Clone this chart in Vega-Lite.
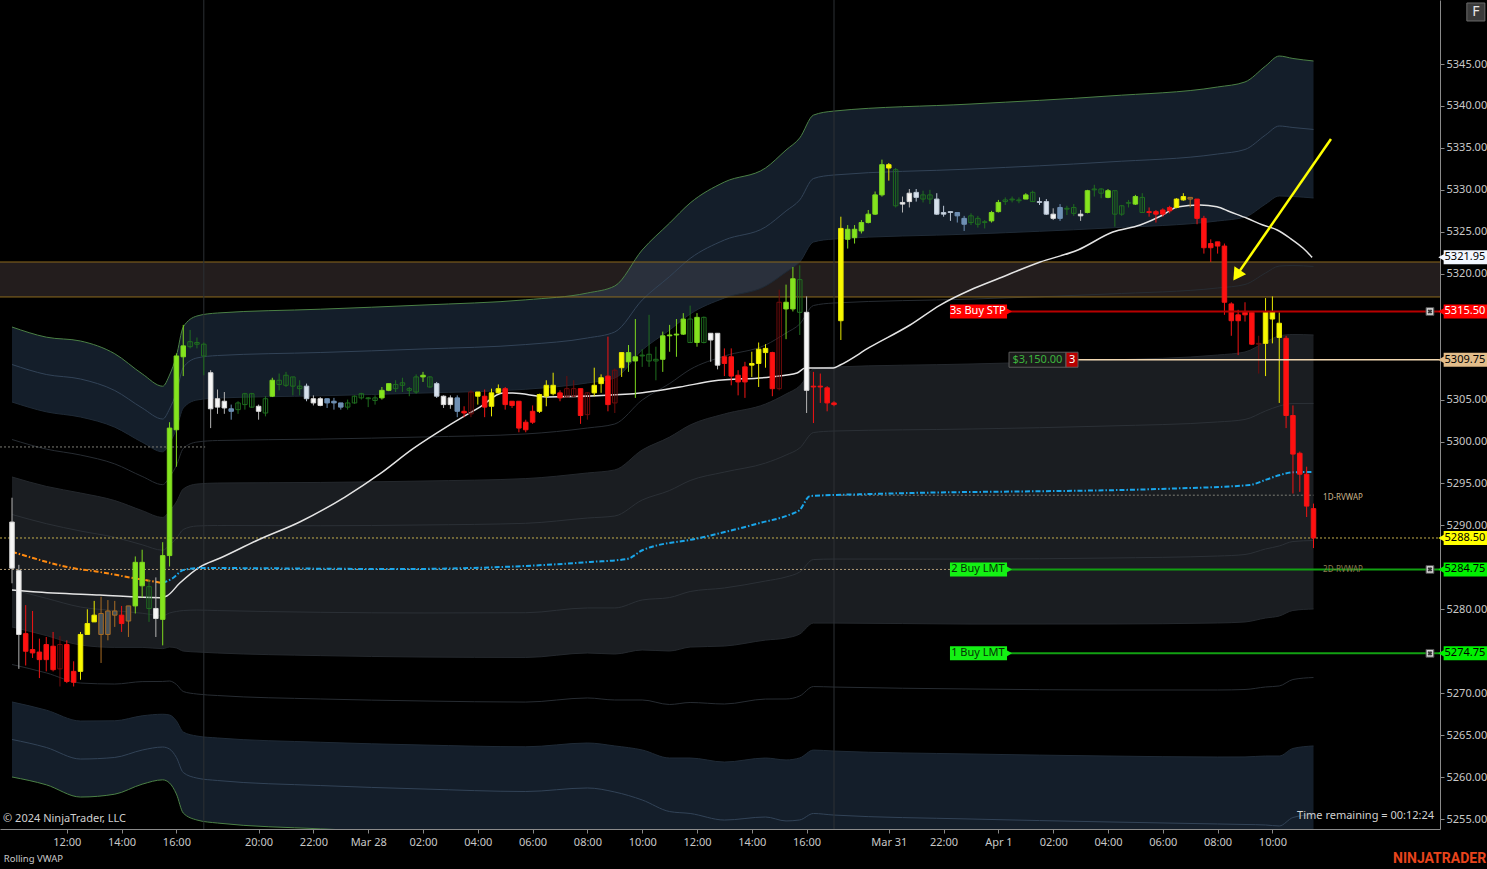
{
"$schema":"https://vega.github.io/schema/vega-lite/v6.json",
"width":1440,"height":829,
"autosize":{"type":"none"},
"padding":{"left":0,"top":0,"right":47,"bottom":40},
"background":"#000000",
"config":{"view":{"stroke":null},"font":"Noto Sans","scale":{"continuousPadding":0}},
"datasets":{
"bands":[
{"t":0,"u6":5313.65,"u5":5309.18,"u4":5304.71,"u3":5300.24,"u2":5295.77,"u1":5291.30,"c":5286.83,"l1":5282.36,"l2":5277.89,"l3":5273.42,"l4":5268.95,"l5":5264.48,"l6":5260.01},
{"t":5,"u6":5312.44,"u5":5307.99,"u4":5303.54,"u3":5299.10,"u2":5294.65,"u1":5290.21,"c":5285.76,"l1":5281.31,"l2":5276.87,"l3":5272.42,"l4":5267.98,"l5":5263.53,"l6":5259.08},
{"t":10,"u6":5311.98,"u5":5307.45,"u4":5302.92,"u3":5298.39,"u2":5293.86,"u1":5289.33,"c":5284.80,"l1":5280.27,"l2":5275.74,"l3":5271.21,"l4":5266.68,"l5":5262.15,"l6":5257.62},
{"t":15,"u6":5310.46,"u5":5306.08,"u4":5301.71,"u3":5297.33,"u2":5292.96,"u1":5288.58,"c":5284.21,"l1":5279.84,"l2":5275.46,"l3":5271.09,"l4":5266.71,"l5":5262.34,"l6":5257.96},
{"t":19,"u6":5308.07,"u5":5304.00,"u4":5299.92,"u3":5295.84,"u2":5291.76,"u1":5287.69,"c":5283.61,"l1":5279.53,"l2":5275.46,"l3":5271.38,"l4":5267.30,"l5":5263.22,"l6":5259.15},
{"t":22,"u6":5306.59,"u5":5302.68,"u4":5298.77,"u3":5294.86,"u2":5290.95,"u1":5287.04,"c":5283.13,"l1":5279.22,"l2":5275.31,"l3":5271.40,"l4":5267.49,"l5":5263.58,"l6":5259.67},
{"t":23,"u6":5307.93,"u5":5303.88,"u4":5299.82,"u3":5295.77,"u2":5291.72,"u1":5287.66,"c":5283.61,"l1":5279.56,"l2":5275.50,"l3":5271.45,"l4":5267.40,"l5":5263.34,"l6":5259.29},
{"t":24,"u6":5310.20,"u5":5305.85,"u4":5301.49,"u3":5297.14,"u2":5292.79,"u1":5288.44,"c":5284.09,"l1":5279.74,"l2":5275.39,"l3":5271.04,"l4":5266.69,"l5":5262.34,"l6":5257.98},
{"t":25,"u6":5313.65,"u5":5308.82,"u4":5303.99,"u3":5299.16,"u2":5294.34,"u1":5289.51,"c":5284.68,"l1":5279.85,"l2":5275.02,"l3":5270.20,"l4":5265.37,"l5":5260.54,"l6":5255.71},
{"t":27,"u6":5314.96,"u5":5309.96,"u4":5304.95,"u3":5299.94,"u2":5294.93,"u1":5289.93,"c":5284.92,"l1":5279.91,"l2":5274.91,"l3":5269.90,"l4":5264.89,"l5":5259.88,"l6":5254.88},
{"t":30,"u6":5315.32,"u5":5310.25,"u4":5305.18,"u3":5300.12,"u2":5295.05,"u1":5289.99,"c":5284.92,"l1":5279.85,"l2":5274.79,"l3":5269.72,"l4":5264.66,"l5":5259.59,"l6":5254.52},
{"t":45,"u6":5315.77,"u5":5310.61,"u4":5305.45,"u3":5300.29,"u2":5295.12,"u1":5289.96,"c":5284.80,"l1":5279.64,"l2":5274.48,"l3":5269.31,"l4":5264.15,"l5":5258.99,"l6":5253.83},
{"t":60,"u6":5316.27,"u5":5311.03,"u4":5305.78,"u3":5300.54,"u2":5295.29,"u1":5290.05,"c":5284.80,"l1":5279.56,"l2":5274.31,"l3":5269.07,"l4":5263.82,"l5":5258.58,"l6":5253.33},
{"t":75,"u6":5316.89,"u5":5311.56,"u4":5306.23,"u3":5300.90,"u2":5295.58,"u1":5290.25,"c":5284.92,"l1":5279.59,"l2":5274.26,"l3":5268.94,"l4":5263.61,"l5":5258.28,"l6":5252.95},
{"t":84,"u6":5317.70,"u5":5312.34,"u4":5306.98,"u3":5301.61,"u2":5296.25,"u1":5290.88,"c":5285.52,"l1":5280.16,"l2":5274.79,"l3":5269.43,"l4":5264.06,"l5":5258.70,"l6":5253.34},
{"t":88,"u6":5318.54,"u5":5313.06,"u4":5307.57,"u3":5302.09,"u2":5296.61,"u1":5291.12,"c":5285.64,"l1":5280.16,"l2":5274.67,"l3":5269.19,"l4":5263.71,"l5":5258.22,"l6":5252.74},
{"t":92,"u6":5322.83,"u5":5316.87,"u4":5310.91,"u3":5304.95,"u2":5298.99,"u1":5293.03,"c":5287.07,"l1":5281.11,"l2":5275.15,"l3":5269.19,"l4":5263.23,"l5":5257.27,"l6":5251.31},
{"t":96,"u6":5326.04,"u5":5319.67,"u4":5313.29,"u3":5306.91,"u2":5300.53,"u1":5294.16,"c":5287.78,"l1":5281.40,"l2":5275.03,"l3":5268.65,"l4":5262.27,"l5":5255.89,"l6":5249.52},
{"t":99,"u6":5328.43,"u5":5321.82,"u4":5315.20,"u3":5308.59,"u2":5301.97,"u1":5295.35,"c":5288.74,"l1":5282.12,"l2":5275.50,"l3":5268.89,"l4":5262.27,"l5":5255.66,"l6":5249.04},
{"t":104,"u6":5330.93,"u5":5324.02,"u4":5317.11,"u3":5310.19,"u2":5303.28,"u1":5296.36,"c":5289.45,"l1":5282.54,"l2":5275.62,"l3":5268.71,"l4":5261.79,"l5":5254.88,"l6":5247.97},
{"t":110,"u6":5332.60,"u5":5325.57,"u4":5318.53,"u3":5311.50,"u2":5304.47,"u1":5297.43,"c":5290.40,"l1":5283.37,"l2":5276.33,"l3":5269.30,"l4":5262.27,"l5":5255.24,"l6":5248.20},
{"t":113,"u6":5334.75,"u5":5327.48,"u4":5320.20,"u3":5312.93,"u2":5305.66,"u1":5298.39,"c":5291.12,"l1":5283.85,"l2":5276.58,"l3":5269.31,"l4":5262.04,"l5":5254.77,"l6":5247.49},
{"t":115,"u6":5336.19,"u5":5328.80,"u4":5321.40,"u3":5314.01,"u2":5306.62,"u1":5299.23,"c":5291.84,"l1":5284.45,"l2":5277.06,"l3":5269.67,"l4":5262.28,"l5":5254.89,"l6":5247.49},
{"t":117,"u6":5338.91,"u5":5331.35,"u4":5323.78,"u3":5316.21,"u2":5308.64,"u1":5301.07,"c":5293.50,"l1":5285.93,"l2":5278.36,"l3":5270.79,"l4":5263.22,"l5":5255.66,"l6":5248.09},
{"t":120,"u6":5339.39,"u5":5331.77,"u4":5324.14,"u3":5316.51,"u2":5308.88,"u1":5301.25,"c":5293.62,"l1":5285.99,"l2":5278.36,"l3":5270.73,"l4":5263.10,"l5":5255.47,"l6":5247.85},
{"t":140,"u6":5340.23,"u5":5332.48,"u4":5324.73,"u3":5316.98,"u2":5309.24,"u1":5301.49,"c":5293.74,"l1":5285.99,"l2":5278.24,"l3":5270.50,"l4":5262.75,"l5":5255.00,"l6":5247.25},
{"t":160,"u6":5341.18,"u5":5333.32,"u4":5325.45,"u3":5317.58,"u2":5309.71,"u1":5301.85,"c":5293.98,"l1":5286.11,"l2":5278.25,"l3":5270.38,"l4":5262.51,"l5":5254.65,"l6":5246.78},
{"t":176,"u6":5342.26,"u5":5334.27,"u4":5326.29,"u3":5318.30,"u2":5310.31,"u1":5302.33,"c":5294.34,"l1":5286.35,"l2":5278.37,"l3":5270.38,"l4":5262.39,"l5":5254.41,"l6":5246.42},
{"t":180,"u6":5342.86,"u5":5334.81,"u4":5326.76,"u3":5318.72,"u2":5310.67,"u1":5302.63,"c":5294.58,"l1":5286.53,"l2":5278.49,"l3":5270.44,"l4":5262.40,"l5":5254.35,"l6":5246.30},
{"t":183,"u6":5344.76,"u5":5336.54,"u4":5328.31,"u3":5320.09,"u2":5311.86,"u1":5303.64,"c":5295.41,"l1":5287.19,"l2":5278.96,"l3":5270.74,"l4":5262.51,"l5":5254.29,"l6":5246.06},
{"t":185,"u6":5345.95,"u5":5337.61,"u4":5329.27,"u3":5320.92,"u2":5312.58,"u1":5304.23,"c":5295.89,"l1":5287.55,"l2":5279.20,"l3":5270.86,"l4":5262.51,"l5":5254.17,"l6":5245.83},
{"t":187,"u6":5345.66,"u5":5337.43,"u4":5329.21,"u3":5320.98,"u2":5312.76,"u1":5304.53,"c":5296.31,"l1":5288.08,"l2":5279.86,"l3":5271.63,"l4":5263.41,"l5":5255.18,"l6":5246.96},
{"t":190,"u6":5345.36,"u5":5337.20,"u4":5329.03,"u3":5320.87,"u2":5312.70,"u1":5304.54,"c":5296.37,"l1":5288.20,"l2":5280.04,"l3":5271.87,"l4":5263.71,"l5":5255.55,"l6":5247.38}
],
"candles":[
{"t":0,"o":5290.4,"h":5293.3,"l":5283.1,"c":5284.9,"s":"W"},
{"t":1,"o":5284.6,"h":5285.3,"l":5272.9,"c":5277.0,"s":"W"},
{"t":2,"o":5277.1,"h":5280.5,"l":5273.3,"c":5275.0,"s":"R"},
{"t":3,"o":5275.2,"h":5279.8,"l":5274.2,"c":5274.8,"s":"R"},
{"t":4,"o":5274.9,"h":5276.5,"l":5271.8,"c":5274.0,"s":"R"},
{"t":5,"o":5275.8,"h":5276.7,"l":5272.6,"c":5274.0,"s":"R"},
{"t":6,"o":5275.6,"h":5277.3,"l":5272.6,"c":5272.8,"s":"R"},
{"t":7,"o":5275.8,"h":5276.8,"l":5270.8,"c":5272.9,"s":"r"},
{"t":8,"o":5275.8,"h":5276.3,"l":5271.2,"c":5271.4,"s":"R"},
{"t":9,"o":5272.6,"h":5273.8,"l":5270.8,"c":5271.3,"s":"R"},
{"t":10,"o":5277.0,"h":5277.3,"l":5271.6,"c":5272.6,"s":"Y"},
{"t":11,"o":5278.3,"h":5280.0,"l":5277.0,"c":5277.0,"s":"Y"},
{"t":12,"o":5279.3,"h":5281.0,"l":5278.5,"c":5278.5,"s":"Y"},
{"t":13,"o":5279.5,"h":5281.5,"l":5273.6,"c":5277.0,"s":"O"},
{"t":14,"o":5279.8,"h":5281.1,"l":5276.3,"c":5277.0,"s":"O"},
{"t":15,"o":5279.8,"h":5281.0,"l":5277.9,"c":5279.3,"s":"O"},
{"t":16,"o":5279.3,"h":5280.4,"l":5277.3,"c":5278.3,"s":"R"},
{"t":17,"o":5280.4,"h":5280.4,"l":5276.7,"c":5278.6,"s":"O"},
{"t":18,"o":5285.6,"h":5286.3,"l":5279.5,"c":5280.4,"s":"G"},
{"t":19,"o":5285.6,"h":5287.1,"l":5281.4,"c":5282.8,"s":"G"},
{"t":20,"o":5282.7,"h":5283.5,"l":5278.5,"c":5280.1,"s":"g"},
{"t":21,"o":5280.1,"h":5283.8,"l":5276.7,"c":5278.9,"s":"W"},
{"t":22,"o":5286.4,"h":5288.0,"l":5275.7,"c":5278.8,"s":"G"},
{"t":23,"o":5301.6,"h":5302.3,"l":5285.1,"c":5286.4,"s":"G"},
{"t":24,"o":5310.2,"h":5310.5,"l":5297.0,"c":5301.4,"s":"G"},
{"t":25,"o":5311.4,"h":5313.9,"l":5307.8,"c":5310.1,"s":"G"},
{"t":26,"o":5311.9,"h":5313.3,"l":5311.1,"c":5311.3,"s":"g"},
{"t":27,"o":5311.8,"h":5312.4,"l":5311.1,"c":5311.6,"s":"g"},
{"t":28,"o":5311.6,"h":5311.8,"l":5307.9,"c":5310.2,"s":"g"},
{"t":29,"o":5308.2,"h":5308.5,"l":5301.6,"c":5303.9,"s":"W"},
{"t":30,"o":5305.1,"h":5306.2,"l":5303.3,"c":5304.1,"s":"W"},
{"t":31,"o":5304.8,"h":5305.9,"l":5303.3,"c":5304.0,"s":"W"},
{"t":32,"o":5303.9,"h":5304.4,"l":5302.6,"c":5303.6,"s":"B"},
{"t":33,"o":5304.6,"h":5304.8,"l":5303.3,"c":5303.8,"s":"g"},
{"t":34,"o":5305.7,"h":5305.8,"l":5303.8,"c":5304.4,"s":"g"},
{"t":35,"o":5305.7,"h":5305.8,"l":5304.0,"c":5304.1,"s":"g"},
{"t":36,"o":5304.2,"h":5304.4,"l":5302.6,"c":5303.6,"s":"W"},
{"t":37,"o":5305.1,"h":5305.4,"l":5303.0,"c":5303.4,"s":"g"},
{"t":38,"o":5307.3,"h":5307.6,"l":5305.3,"c":5305.4,"s":"G"},
{"t":39,"o":5307.3,"h":5308.1,"l":5306.1,"c":5306.8,"s":"g"},
{"t":40,"o":5307.9,"h":5308.3,"l":5306.5,"c":5306.7,"s":"g"},
{"t":41,"o":5307.7,"h":5307.7,"l":5305.5,"c":5306.6,"s":"g"},
{"t":42,"o":5306.6,"h":5307.3,"l":5305.5,"c":5306.3,"s":"g"},
{"t":43,"o":5306.6,"h":5306.9,"l":5304.8,"c":5305.1,"s":"w"},
{"t":44,"o":5305.1,"h":5305.5,"l":5304.3,"c":5304.6,"s":"W"},
{"t":45,"o":5305.1,"h":5305.3,"l":5304.2,"c":5304.3,"s":"W"},
{"t":46,"o":5305.1,"h":5305.1,"l":5304.0,"c":5304.6,"s":"B"},
{"t":47,"o":5304.8,"h":5305.2,"l":5303.8,"c":5304.6,"s":"B"},
{"t":48,"o":5304.6,"h":5304.6,"l":5303.8,"c":5304.1,"s":"B"},
{"t":49,"o":5304.6,"h":5305.0,"l":5303.8,"c":5304.1,"s":"g"},
{"t":50,"o":5305.4,"h":5305.5,"l":5304.5,"c":5304.6,"s":"g"},
{"t":51,"o":5305.7,"h":5305.8,"l":5305.0,"c":5305.2,"s":"g"},
{"t":52,"o":5305.2,"h":5305.3,"l":5304.1,"c":5305.1,"s":"g"},
{"t":53,"o":5305.2,"h":5305.5,"l":5304.4,"c":5304.9,"s":"g"},
{"t":54,"o":5306.1,"h":5306.5,"l":5305.0,"c":5305.2,"s":"G"},
{"t":55,"o":5306.9,"h":5306.9,"l":5306.0,"c":5306.1,"s":"G"},
{"t":56,"o":5306.8,"h":5307.3,"l":5305.9,"c":5306.3,"s":"g"},
{"t":57,"o":5307.0,"h":5307.6,"l":5305.9,"c":5306.7,"s":"g"},
{"t":58,"o":5306.3,"h":5306.5,"l":5305.4,"c":5306.1,"s":"g"},
{"t":59,"o":5307.7,"h":5308.0,"l":5305.7,"c":5305.9,"s":"g"},
{"t":60,"o":5307.9,"h":5308.3,"l":5307.1,"c":5307.7,"s":"G"},
{"t":61,"o":5307.7,"h":5307.8,"l":5306.4,"c":5306.5,"s":"g"},
{"t":62,"o":5306.9,"h":5307.1,"l":5305.2,"c":5305.4,"s":"w"},
{"t":63,"o":5305.4,"h":5305.5,"l":5304.0,"c":5304.4,"s":"W"},
{"t":64,"o":5305.2,"h":5305.5,"l":5303.9,"c":5304.4,"s":"W"},
{"t":65,"o":5305.2,"h":5305.5,"l":5302.9,"c":5303.6,"s":"B"},
{"t":66,"o":5303.6,"h":5304.2,"l":5302.9,"c":5303.4,"s":"R"},
{"t":67,"o":5305.9,"h":5306.1,"l":5302.9,"c":5303.3,"s":"r"},
{"t":68,"o":5305.9,"h":5305.9,"l":5304.4,"c":5305.4,"s":"Y"},
{"t":69,"o":5305.4,"h":5306.2,"l":5302.9,"c":5304.1,"s":"R"},
{"t":70,"o":5305.8,"h":5306.3,"l":5303.0,"c":5304.2,"s":"Y"},
{"t":71,"o":5306.3,"h":5306.8,"l":5305.7,"c":5305.8,"s":"Y"},
{"t":72,"o":5306.3,"h":5306.5,"l":5303.8,"c":5304.4,"s":"R"},
{"t":73,"o":5304.8,"h":5304.8,"l":5304.0,"c":5304.3,"s":"R"},
{"t":74,"o":5304.8,"h":5304.8,"l":5301.1,"c":5301.6,"s":"R"},
{"t":75,"o":5302.3,"h":5302.6,"l":5301.1,"c":5301.4,"s":"R"},
{"t":76,"o":5303.6,"h":5304.3,"l":5302.1,"c":5302.3,"s":"R"},
{"t":77,"o":5305.6,"h":5305.7,"l":5303.4,"c":5303.6,"s":"Y"},
{"t":78,"o":5306.7,"h":5307.3,"l":5304.2,"c":5305.4,"s":"Y"},
{"t":79,"o":5306.7,"h":5308.2,"l":5305.5,"c":5305.7,"s":"Y"},
{"t":80,"o":5305.8,"h":5306.1,"l":5304.8,"c":5305.2,"s":"R"},
{"t":81,"o":5306.3,"h":5307.8,"l":5305.3,"c":5305.3,"s":"r"},
{"t":82,"o":5306.3,"h":5307.3,"l":5305.3,"c":5305.4,"s":"r"},
{"t":83,"o":5306.3,"h":5306.3,"l":5302.1,"c":5303.1,"s":"R"},
{"t":84,"o":5305.8,"h":5305.9,"l":5302.6,"c":5303.2,"s":"r"},
{"t":85,"o":5306.7,"h":5308.8,"l":5305.4,"c":5305.8,"s":"Y"},
{"t":86,"o":5307.6,"h":5308.0,"l":5305.8,"c":5306.9,"s":"Y"},
{"t":87,"o":5307.8,"h":5312.5,"l":5303.6,"c":5304.4,"s":"R"},
{"t":88,"o":5308.5,"h":5308.7,"l":5303.4,"c":5304.6,"s":"r"},
{"t":89,"o":5310.6,"h":5310.6,"l":5307.7,"c":5308.8,"s":"Y"},
{"t":90,"o":5310.6,"h":5311.5,"l":5308.3,"c":5309.5,"s":"G"},
{"t":91,"o":5310.1,"h":5314.6,"l":5305.2,"c":5309.6,"s":"G"},
{"t":92,"o":5310.3,"h":5311.0,"l":5308.9,"c":5310.2,"s":"g"},
{"t":93,"o":5310.4,"h":5315.1,"l":5308.9,"c":5309.6,"s":"g"},
{"t":94,"o":5309.8,"h":5311.3,"l":5307.3,"c":5309.6,"s":"g"},
{"t":95,"o":5312.6,"h":5313.1,"l":5308.3,"c":5309.8,"s":"G"},
{"t":96,"o":5312.7,"h":5313.9,"l":5310.7,"c":5312.6,"s":"G"},
{"t":97,"o":5312.8,"h":5314.6,"l":5310.1,"c":5312.7,"s":"G"},
{"t":98,"o":5314.6,"h":5315.3,"l":5312.7,"c":5312.8,"s":"G"},
{"t":99,"o":5314.6,"h":5316.2,"l":5311.8,"c":5311.8,"s":"g"},
{"t":100,"o":5314.8,"h":5315.3,"l":5311.3,"c":5311.8,"s":"G"},
{"t":101,"o":5314.8,"h":5314.9,"l":5311.7,"c":5311.8,"s":"g"},
{"t":102,"o":5312.9,"h":5312.9,"l":5309.5,"c":5312.1,"s":"W"},
{"t":103,"o":5312.9,"h":5312.9,"l":5308.6,"c":5309.1,"s":"W"},
{"t":104,"o":5310.1,"h":5311.1,"l":5307.8,"c":5309.3,"s":"R"},
{"t":105,"o":5310.1,"h":5311.1,"l":5306.7,"c":5307.8,"s":"R"},
{"t":106,"o":5307.9,"h":5308.5,"l":5305.5,"c":5307.1,"s":"R"},
{"t":107,"o":5308.9,"h":5309.5,"l":5305.2,"c":5307.1,"s":"R"},
{"t":108,"o":5309.3,"h":5310.7,"l":5307.7,"c":5309.1,"s":"Y"},
{"t":109,"o":5311.0,"h":5311.8,"l":5306.5,"c":5309.3,"s":"Y"},
{"t":110,"o":5311.1,"h":5311.6,"l":5308.8,"c":5310.6,"s":"Y"},
{"t":111,"o":5310.6,"h":5310.7,"l":5305.4,"c":5306.3,"s":"R"},
{"t":112,"o":5316.6,"h":5318.1,"l":5306.1,"c":5306.3,"s":"r"},
{"t":113,"o":5316.6,"h":5318.7,"l":5312.2,"c":5315.8,"s":"G"},
{"t":114,"o":5319.4,"h":5320.8,"l":5315.5,"c":5315.8,"s":"G"},
{"t":115,"o":5319.3,"h":5321.0,"l":5312.7,"c":5315.4,"s":"g"},
{"t":116,"o":5315.4,"h":5317.3,"l":5303.4,"c":5306.1,"s":"W"},
{"t":117,"o":5306.6,"h":5308.3,"l":5302.2,"c":5306.5,"s":"R"},
{"t":118,"o":5306.6,"h":5308.1,"l":5304.6,"c":5306.5,"s":"R"},
{"t":119,"o":5306.4,"h":5306.6,"l":5303.6,"c":5304.6,"s":"R"},
{"t":120,"o":5304.6,"h":5304.8,"l":5304.2,"c":5304.4,"s":"R"},
{"t":121,"o":5325.4,"h":5326.8,"l":5312.1,"c":5314.4,"s":"Y"},
{"t":122,"o":5325.3,"h":5325.8,"l":5323.0,"c":5324.1,"s":"G"},
{"t":123,"o":5325.3,"h":5325.8,"l":5323.6,"c":5324.3,"s":"G"},
{"t":124,"o":5326.1,"h":5326.4,"l":5324.8,"c":5325.1,"s":"G"},
{"t":125,"o":5327.1,"h":5327.6,"l":5326.0,"c":5326.1,"s":"G"},
{"t":126,"o":5329.4,"h":5329.8,"l":5327.0,"c":5327.1,"s":"G"},
{"t":127,"o":5333.0,"h":5333.6,"l":5329.2,"c":5329.4,"s":"G"},
{"t":128,"o":5333.0,"h":5333.2,"l":5331.1,"c":5332.6,"s":"Y"},
{"t":129,"o":5332.4,"h":5332.6,"l":5327.9,"c":5328.1,"s":"g"},
{"t":130,"o":5328.5,"h":5329.2,"l":5327.3,"c":5328.3,"s":"W"},
{"t":131,"o":5329.6,"h":5330.1,"l":5327.9,"c":5328.6,"s":"W"},
{"t":132,"o":5329.7,"h":5330.1,"l":5328.6,"c":5329.1,"s":"w"},
{"t":133,"o":5329.4,"h":5329.9,"l":5328.5,"c":5328.9,"s":"g"},
{"t":134,"o":5329.4,"h":5330.0,"l":5328.3,"c":5328.9,"s":"g"},
{"t":135,"o":5328.9,"h":5329.6,"l":5327.0,"c":5327.1,"s":"w"},
{"t":136,"o":5327.3,"h":5328.1,"l":5326.8,"c":5327.1,"s":"w"},
{"t":137,"o":5327.4,"h":5327.4,"l":5326.3,"c":5327.3,"s":"w"},
{"t":138,"o":5327.3,"h":5327.3,"l":5326.1,"c":5326.9,"s":"B"},
{"t":139,"o":5326.6,"h":5326.9,"l":5325.1,"c":5325.9,"s":"B"},
{"t":140,"o":5326.9,"h":5327.2,"l":5325.8,"c":5326.1,"s":"g"},
{"t":141,"o":5326.6,"h":5326.9,"l":5325.5,"c":5325.9,"s":"g"},
{"t":142,"o":5326.2,"h":5326.4,"l":5325.4,"c":5326.1,"s":"g"},
{"t":143,"o":5327.3,"h":5327.5,"l":5326.1,"c":5326.3,"s":"G"},
{"t":144,"o":5328.5,"h":5328.8,"l":5327.3,"c":5327.4,"s":"G"},
{"t":145,"o":5328.8,"h":5329.1,"l":5328.2,"c":5328.6,"s":"g"},
{"t":146,"o":5328.9,"h":5329.2,"l":5328.5,"c":5328.8,"s":"g"},
{"t":147,"o":5328.8,"h":5329.1,"l":5328.4,"c":5328.7,"s":"g"},
{"t":148,"o":5329.4,"h":5329.6,"l":5328.9,"c":5328.9,"s":"G"},
{"t":149,"o":5329.7,"h":5329.9,"l":5328.6,"c":5328.6,"s":"g"},
{"t":150,"o":5328.6,"h":5329.1,"l":5328.2,"c":5328.5,"s":"w"},
{"t":151,"o":5328.6,"h":5328.9,"l":5327.0,"c":5327.1,"s":"w"},
{"t":152,"o":5327.1,"h":5327.8,"l":5326.4,"c":5326.6,"s":"W"},
{"t":153,"o":5327.9,"h":5328.3,"l":5326.3,"c":5326.6,"s":"B"},
{"t":154,"o":5327.8,"h":5328.1,"l":5327.0,"c":5327.7,"s":"g"},
{"t":155,"o":5327.9,"h":5328.3,"l":5326.9,"c":5327.2,"s":"g"},
{"t":156,"o":5327.1,"h":5327.6,"l":5326.3,"c":5326.9,"s":"W"},
{"t":157,"o":5329.9,"h":5330.0,"l":5327.2,"c":5327.3,"s":"G"},
{"t":158,"o":5330.1,"h":5330.6,"l":5329.2,"c":5330.0,"s":"g"},
{"t":159,"o":5330.1,"h":5330.2,"l":5329.0,"c":5329.6,"s":"g"},
{"t":160,"o":5329.9,"h":5330.1,"l":5329.0,"c":5329.1,"s":"G"},
{"t":161,"o":5329.9,"h":5329.9,"l":5325.6,"c":5327.1,"s":"g"},
{"t":162,"o":5328.1,"h":5328.2,"l":5326.9,"c":5327.1,"s":"g"},
{"t":163,"o":5328.5,"h":5328.8,"l":5327.9,"c":5328.4,"s":"g"},
{"t":164,"o":5329.2,"h":5329.4,"l":5328.2,"c":5328.3,"s":"G"},
{"t":165,"o":5329.1,"h":5329.6,"l":5327.3,"c":5327.3,"s":"g"},
{"t":166,"o":5327.4,"h":5327.9,"l":5326.8,"c":5327.3,"s":"R"},
{"t":167,"o":5327.4,"h":5327.6,"l":5326.1,"c":5327.1,"s":"R"},
{"t":168,"o":5327.6,"h":5327.8,"l":5326.8,"c":5327.1,"s":"R"},
{"t":169,"o":5327.9,"h":5328.1,"l":5327.2,"c":5327.5,"s":"R"},
{"t":170,"o":5328.9,"h":5329.0,"l":5327.8,"c":5327.9,"s":"Y"},
{"t":171,"o":5329.2,"h":5329.6,"l":5328.7,"c":5328.8,"s":"Y"},
{"t":172,"o":5329.1,"h":5329.1,"l":5327.9,"c":5328.9,"s":"O"},
{"t":173,"o":5328.9,"h":5328.9,"l":5325.9,"c":5326.6,"s":"R"},
{"t":174,"o":5326.6,"h":5326.9,"l":5322.4,"c":5323.1,"s":"R"},
{"t":175,"o":5323.6,"h":5324.1,"l":5321.4,"c":5323.1,"s":"R"},
{"t":176,"o":5323.8,"h":5323.8,"l":5322.4,"c":5323.3,"s":"R"},
{"t":177,"o":5323.3,"h":5323.6,"l":5315.1,"c":5316.6,"s":"R"},
{"t":178,"o":5316.4,"h":5316.6,"l":5312.6,"c":5314.4,"s":"R"},
{"t":179,"o":5315.1,"h":5315.7,"l":5310.3,"c":5314.4,"s":"R"},
{"t":180,"o":5315.4,"h":5316.6,"l":5314.3,"c":5315.1,"s":"R"},
{"t":181,"o":5315.4,"h":5315.5,"l":5311.5,"c":5311.6,"s":"R"},
{"t":182,"o":5311.7,"h":5312.6,"l":5308.1,"c":5311.6,"s":"r"},
{"t":183,"o":5315.4,"h":5317.1,"l":5307.8,"c":5311.7,"s":"Y"},
{"t":184,"o":5315.5,"h":5317.3,"l":5311.7,"c":5314.6,"s":"Y"},
{"t":185,"o":5314.1,"h":5315.4,"l":5304.6,"c":5312.4,"s":"Y"},
{"t":186,"o":5312.3,"h":5312.6,"l":5301.6,"c":5303.1,"s":"R"},
{"t":187,"o":5303.1,"h":5304.3,"l":5293.8,"c":5298.5,"s":"R"},
{"t":188,"o":5298.6,"h":5298.8,"l":5294.0,"c":5296.1,"s":"R"},
{"t":189,"o":5296.1,"h":5297.0,"l":5291.0,"c":5292.3,"s":"R"},
{"t":190,"o":5292.0,"h":5292.6,"l":5287.3,"c":5288.5,"s":"R"}
],
"white":[
{"t":0,"p":5282.30},{"t":3.07,"p":5282.10},{"t":12.85,"p":5281.70},{"t":21.6,"p":5281.38},{"t":22.6,"p":5281.58},{"t":24.5,"p":5283.13},{"t":27.4,"p":5285.04},{"t":30.4,"p":5286.11},{"t":35.9,"p":5288.26},{"t":42.0,"p":5290.41},{"t":48.6,"p":5293.38},{"t":53.7,"p":5296.13},{"t":58.5,"p":5299.11},{"t":63.9,"p":5301.97},{"t":68.3,"p":5304.11},{"t":71.7,"p":5305.78},{"t":73.1,"p":5305.78},{"t":78.1,"p":5305.31},{"t":90.2,"p":5305.66},{"t":97.5,"p":5306.50},{"t":102.3,"p":5307.21},{"t":110.7,"p":5307.69},{"t":114.6,"p":5308.17},{"t":115.8,"p":5308.76},{"t":119.9,"p":5308.76},{"t":120.9,"p":5309.12},{"t":125.3,"p":5311.27},{"t":131.1,"p":5313.89},{"t":135.5,"p":5316.27},{"t":139.9,"p":5318.06},{"t":144.2,"p":5319.49},{"t":150.1,"p":5321.40},{"t":155.6,"p":5322.83},{"t":160.7,"p":5324.97},{"t":164.7,"p":5325.81},{"t":168.0,"p":5327.00},{"t":170.1,"p":5327.95},{"t":173.4,"p":5328.19},{"t":175.9,"p":5327.99},{"t":177.8,"p":5327.39},{"t":180.3,"p":5326.61},{"t":182.6,"p":5325.81},{"t":184.7,"p":5325.21},{"t":186.6,"p":5324.22},{"t":188.5,"p":5323.03},{"t":189.8,"p":5321.95}
],
"cyan":[
{"t":22.0,"p":5283.13},{"t":23.5,"p":5283.73},{"t":25.0,"p":5284.68},{"t":27.4,"p":5284.92},{"t":56.6,"p":5284.80},{"t":84.4,"p":5285.64},{"t":89.8,"p":5286.00},{"t":92.1,"p":5287.07},{"t":100.4,"p":5288.50},{"t":109.2,"p":5290.29},{"t":113.6,"p":5291.30},{"t":115.0,"p":5291.84},{"t":116.5,"p":5293.50},{"t":125.3,"p":5293.74},{"t":170.5,"p":5294.42},{"t":180.7,"p":5294.82},{"t":183.2,"p":5295.49},{"t":185.1,"p":5296.01},{"t":187.0,"p":5296.33},{"t":189.8,"p":5296.37}
],
"orange":[
{"t":0,"p":5286.86},{"t":3.07,"p":5286.11},{"t":8.03,"p":5285.04},{"t":12.85,"p":5284.44},{"t":17.66,"p":5283.73},{"t":22.04,"p":5283.13}
],
"dots":[
{"p":5299.35,"t0":-1.752,"t1":28.2,"k":"grey"},
{"p":5288.5,"t0":-1.752,"t1":208.467,"k":"last"},
{"p":5284.75,"t0":-1.752,"t1":137.0,"k":"tan"},
{"p":5293.6,"t0":121,"t1":190,"k":"grey"}
],
"rtags":[
{"p":5321.95,"label":"5321.95","k":"white"},
{"p":5315.5,"label":"5315.50","k":"stop"},
{"p":5309.75,"label":"5309.75","k":"tan"},
{"p":5288.5,"label":"5288.50","k":"last"},
{"p":5284.75,"label":"5284.75","k":"limit"},
{"p":5274.75,"label":"5274.75","k":"limit"}
],
"otags":[
{"p":5315.5,"label":"3s Buy STP","k":"stop"},
{"p":5284.75,"label":"2 Buy LMT","k":"limit"},
{"p":5274.75,"label":"1 Buy LMT","k":"limit"}
]
},
"layer":[
{"data":{"values":[{"lo":5317.23,"hi":5321.40}]},
 "mark":{"type":"rect","fill":"#231d1d"},
 "encoding":{"x":{"datum":-1.752,"type":"quantitative","scale":{"domain":[-1.752,208.467],"nice":false,"zero":false,"padding":0}},"x2":{"datum":208.467},
 "y":{"field":"hi","type":"quantitative","scale":{"domain":[5253.81,5352.63],"nice":false,"zero":false,"padding":0},
   "axis":{"orient":"right","title":null,"grid":false,"values":[5255,5260,5265,5270,5280,5290,5295,5300,5305,5320,5325,5330,5335,5340,5345],"format":".2f",
   "labelColor":"#c8c8c8","labelFont":"Noto Sans","labelFontSize":11,"labelPadding":2,"tickColor":"#8a8a8a","tickSize":4,"domainColor":"#8a8a8a","labelFlush":false,"labelOverlap":false}},
 "y2":{"field":"lo"}}},
{"data":{"name":"bands"},
 "mark":{"type":"area","interpolate":"monotone","fill":"#3a5778","fillOpacity":0.35},
 "encoding":{"x":{"field":"t","type":"quantitative","scale":{"domain":[-1.752,208.467],"nice":false,"zero":false,"padding":0},
   "axis":{"orient":"bottom","title":null,"grid":false,"values":[8,16,24,36,44,52,60,68,76,84,92,100,108,116,128,136,144,152,160,168,176,184],
   "labelExpr":"['12:00','14:00','16:00','20:00','22:00','Mar 28','02:00','04:00','06:00','08:00','10:00','12:00','14:00','16:00','Mar 31','22:00','Apr 1','02:00','04:00','06:00','08:00','10:00'][indexof([8,16,24,36,44,52,60,68,76,84,92,100,108,116,128,136,144,152,160,168,176,184], datum.value)]",
   "labelColor":"#c8c8c8","labelFont":"Noto Sans","labelFontSize":11,"labelPadding":3,"tickColor":"#8a8a8a","tickSize":4,"domainColor":"#8a8a8a","labelFlush":false,"labelOverlap":false}},
 "y":{"field":"u6","type":"quantitative","scale":{"domain":[5253.81,5352.63],"nice":false,"zero":false,"padding":0}},
 "y2":{"field":"u4"}}},
{"data":{"name":"bands"},
 "mark":{"type":"area","interpolate":"monotone","fill":"#1a1d21"},
 "encoding":{"x":{"field":"t","type":"quantitative","scale":{"domain":[-1.752,208.467],"nice":false,"zero":false,"padding":0}},
 "y":{"field":"u2","type":"quantitative","scale":{"domain":[5253.81,5352.63],"nice":false,"zero":false,"padding":0}},"y2":{"field":"l2"}}},
{"data":{"name":"bands"},
 "mark":{"type":"area","interpolate":"monotone","fill":"#3a5778","fillOpacity":0.35,"clip":true},
 "encoding":{"x":{"field":"t","type":"quantitative","scale":{"domain":[-1.752,208.467],"nice":false,"zero":false,"padding":0}},
 "y":{"field":"l4","type":"quantitative","scale":{"domain":[5253.81,5352.63],"nice":false,"zero":false,"padding":0}},"y2":{"field":"l6"}}},
{"data":{"name":"bands"},
 "transform":[{"fold":["u6","u5","u4","u3","u2","u1","l1","l2","l3","l4","l5","l6"],"as":["k","v"]}],
 "mark":{"type":"line","interpolate":"monotone","strokeWidth":1,"clip":true},
 "encoding":{"x":{"field":"t","type":"quantitative","scale":{"domain":[-1.752,208.467],"nice":false,"zero":false,"padding":0}},
 "y":{"field":"v","type":"quantitative","scale":{"domain":[5253.81,5352.63],"nice":false,"zero":false,"padding":0}},
 "color":{"field":"k","type":"nominal","legend":null,"scale":{"domain":["u6","u5","u4","u3","u2","u1","l1","l2","l3","l4","l5","l6"],"range":["#4b8045","#324357","#1f2a36","#272c32","#24282d","#2b3036","#2b3036","#24282d","#272c32","#1f2a36","#324357","#4b8045"]}}}},
{"data":{"values":[{"p":5321.40},{"p":5317.23}]},
 "mark":{"type":"rule","color":"#8c6a1e","strokeWidth":1},
 "encoding":{"x":{"datum":-1.752,"type":"quantitative"},"x2":{"datum":208.467},
 "y":{"field":"p","type":"quantitative"}}},
{"data":{"values":[{"t":28},{"t":120}]},
 "mark":{"type":"rule","color":"#2c3034","strokeWidth":1},
 "encoding":{"x":{"field":"t","type":"quantitative"}}},
{"data":{"name":"dots"},
 "mark":{"type":"rule","strokeWidth":1,"strokeDash":[2,2]},
 "encoding":{"x":{"field":"t0","type":"quantitative"},"x2":{"field":"t1"},
 "y":{"field":"p","type":"quantitative"},
 "color":{"field":"k","type":"nominal","legend":null,"scale":{"domain":["grey","last","tan"],"range":["#7c7c74","#c2ad4c","#b09a74"]}}}},
{"data":{"name":"white"},
 "mark":{"type":"line","interpolate":"monotone","color":"#e4e4e4","strokeWidth":1.5},
 "encoding":{"x":{"field":"t","type":"quantitative"},"y":{"field":"p","type":"quantitative"}}},
{"data":{"name":"orange"},
 "mark":{"type":"line","interpolate":"monotone","color":"#ff8a10","strokeWidth":2,"strokeDash":[5,2,1.5,2]},
 "encoding":{"x":{"field":"t","type":"quantitative"},"y":{"field":"p","type":"quantitative"}}},
{"data":{"name":"cyan"},
 "mark":{"type":"line","interpolate":"monotone","color":"#1aa6ea","strokeWidth":2,"strokeDash":[5,2,1.5,2]},
 "encoding":{"x":{"field":"t","type":"quantitative"},"y":{"field":"p","type":"quantitative"}}},
{"data":{"name":"candles"},
 "mark":{"type":"rule","strokeWidth":1},
 "encoding":{"x":{"field":"t","type":"quantitative"},
 "y":{"field":"l","type":"quantitative"},"y2":{"field":"h"},
 "stroke":{"field":"s","type":"nominal","legend":null,"scale":{"domain":["R","Y","G","g","W","w","B","r","O"],"range":["#f01414","#e8e800","#7ed81e","#1f6e1f","#b4b4b4","#b8c4d2","#6f90b4","#6e0c0c","#a86c24"]}}}},
{"data":{"name":"candles"},
 "mark":{"type":"bar","size":4.5,"strokeWidth":1,"orient":"vertical"},
 "encoding":{"x":{"field":"t","type":"quantitative"},
 "y":{"field":"o","type":"quantitative"},"y2":{"field":"c"},
 "fill":{"field":"s","type":"nominal","legend":null,"scale":{"domain":["R","Y","G","g","W","w","B","r","O"],"range":["#ff1010","#f8f800","#84e41e","transparent","#f6f6f6","#d6e0ec","#6f90b4","transparent","#45525c"]}},
 "stroke":{"field":"s","type":"nominal","legend":null,"scale":{"domain":["R","Y","G","g","W","w","B","r","O"],"range":["#f01414","#e8e800","#7ed81e","#1f6e1f","#d8d8d8","#b8c4d2","#6f90b4","#6e0c0c","#a86c24"]}}}},
{"data":{"values":[{"p":5315.5,"k":"stop"},{"p":5284.75,"k":"limit"},{"p":5274.75,"k":"limit"}]},
 "mark":{"type":"rule","strokeWidth":2},
 "encoding":{"x":{"datum":145.26,"type":"quantitative"},"x2":{"datum":208.467},
 "y":{"field":"p","type":"quantitative"},
 "color":{"field":"k","type":"nominal","legend":null,"scale":{"domain":["stop","limit"],"range":["#b80000","#12a012"]}}}},
{"data":{"values":[{"p":5309.75}]},
 "mark":{"type":"rule","strokeWidth":1.5,"color":"#f2d8b2"},
 "encoding":{"x":{"datum":155.62,"type":"quantitative"},"x2":{"datum":208.467},
 "y":{"field":"p","type":"quantitative"}}},
{"data":{"values":[{"p":5315.5},{"p":5284.75},{"p":5274.75}]},
 "mark":{"type":"point","shape":"square","filled":true,"size":60,"color":"#d4d4d4","stroke":"#505050","strokeWidth":1,"opacity":1},
 "encoding":{"x":{"datum":207.0,"type":"quantitative"},"y":{"field":"p","type":"quantitative"}}},
{"data":{"values":[{"p":5315.5},{"p":5284.75},{"p":5274.75}]},
 "mark":{"type":"point","shape":"cross","filled":true,"size":22,"angle":45,"color":"#303030","opacity":1},
 "encoding":{"x":{"datum":207.0,"type":"quantitative"},"y":{"field":"p","type":"quantitative"}}},
{"data":{"name":"otags"},
 "mark":{"type":"bar","size":14,"orient":"horizontal"},
 "encoding":{"x":{"datum":136.93,"type":"quantitative"},"x2":{"datum":145.26},
 "y":{"field":"p","type":"quantitative"},
 "fill":{"field":"k","type":"nominal","legend":null,"scale":{"domain":["stop","limit"],"range":["#ff0000","#14f014"]}}}},
{"data":{"name":"otags"},
 "mark":{"type":"point","shape":"triangle-right","filled":true,"size":60,"opacity":1},
 "encoding":{"x":{"datum":145.5,"type":"quantitative"},"y":{"field":"p","type":"quantitative"},
 "color":{"field":"k","type":"nominal","legend":null,"scale":{"domain":["stop","limit"],"range":["#ff0000","#14f014"]}}}},
{"data":{"name":"otags"},
 "mark":{"type":"text","fontSize":11,"font":"Noto Sans","align":"center","baseline":"middle"},
 "encoding":{"x":{"datum":141.0,"type":"quantitative"},"y":{"field":"p","type":"quantitative"},
 "text":{"field":"label"},
 "color":{"field":"k","type":"nominal","legend":null,"scale":{"domain":["stop","limit"],"range":["#ffffff","#063006"]}}}},
{"data":{"values":[{"p":5309.75}]},
 "mark":{"type":"bar","size":15,"orient":"horizontal","fill":"#1c1c1c","stroke":"#5c5c5c","strokeWidth":1},
 "encoding":{"x":{"datum":145.55,"type":"quantitative"},"x2":{"datum":153.87},"y":{"field":"p","type":"quantitative"}}},
{"data":{"values":[{"p":5309.75}]},
 "mark":{"type":"bar","size":15,"orient":"horizontal","fill":"#b80000","stroke":"#5c5c5c","strokeWidth":1},
 "encoding":{"x":{"datum":153.87,"type":"quantitative"},"x2":{"datum":155.62},"y":{"field":"p","type":"quantitative"}}},
{"data":{"values":[{"p":5309.75}]},
 "mark":{"type":"text","fontSize":11,"font":"Noto Sans","align":"center","baseline":"middle","color":"#3cb43c","text":"$3,150.00"},
 "encoding":{"x":{"datum":149.7,"type":"quantitative"},"y":{"field":"p","type":"quantitative"}}},
{"data":{"values":[{"p":5309.75}]},
 "mark":{"type":"text","fontSize":11,"font":"Noto Sans","align":"center","baseline":"middle","color":"#ffffff","text":"3"},
 "encoding":{"x":{"datum":154.75,"type":"quantitative"},"y":{"field":"p","type":"quantitative"}}},
{"data":{"name":"rtags"},
 "mark":{"type":"bar","size":14,"orient":"horizontal"},
 "encoding":{"x":{"datum":209.0,"type":"quantitative"},"x2":{"datum":215.5},"y":{"field":"p","type":"quantitative"},
 "fill":{"field":"k","type":"nominal","legend":null,"scale":{"domain":["white","stop","tan","last","limit"],"range":["#f2f7ff","#ff0000","#e2bd8a","#ffff00","#00f000"]}}}},
{"data":{"name":"rtags"},
 "mark":{"type":"point","shape":"triangle-left","filled":true,"size":70,"opacity":1},
 "encoding":{"x":{"datum":208.75,"type":"quantitative"},"y":{"field":"p","type":"quantitative"},
 "color":{"field":"k","type":"nominal","legend":null,"scale":{"domain":["white","stop","tan","last","limit"],"range":["#f2f7ff","#ff0000","#e2bd8a","#ffff00","#00f000"]}}}},
{"data":{"name":"rtags"},
 "mark":{"type":"text","fontSize":11,"font":"Noto Sans","align":"center","baseline":"middle"},
 "encoding":{"x":{"datum":212.1,"type":"quantitative"},"y":{"field":"p","type":"quantitative"},
 "text":{"field":"label"},
 "color":{"field":"k","type":"nominal","legend":null,"scale":{"domain":["white","stop","tan","last","limit"],"range":["#000000","#ffffff","#000000","#000000","#000000"]}}}},
{"data":{"values":[{}]},
 "mark":{"type":"rule","color":"#ffff00","strokeWidth":2.5},
 "encoding":{"x":{"datum":192.55,"type":"quantitative"},"x2":{"datum":178.9},
 "y":{"datum":5336.06,"type":"quantitative"},"y2":{"datum":5319.95}}},
{"data":{"values":[{}]},
 "mark":{"type":"point","shape":"triangle-up","filled":true,"size":200,"angle":214.4,"color":"#ffff00","opacity":1},
 "encoding":{"x":{"datum":178.8,"type":"quantitative"},"y":{"datum":5319.8,"type":"quantitative"}}},
{"data":{"values":[{}]},
 "mark":{"type":"text","text":"© 2024 NinjaTrader, LLC","fontSize":11,"font":"Noto Sans","align":"left","baseline":"middle","color":"#d0d0d0"},
 "encoding":{"x":{"datum":-1.3,"type":"quantitative"},"y":{"datum":5255.0,"type":"quantitative"}}},
{"data":{"values":[{}]},
 "mark":{"type":"text","text":"Time remaining = 00:12:24","fontSize":11,"font":"Noto Sans","align":"right","baseline":"middle","color":"#d0d0d0"},
 "encoding":{"x":{"datum":207.6,"type":"quantitative"},"y":{"datum":5255.4,"type":"quantitative"}}},
{"data":{"values":[{}]},
 "mark":{"type":"text","text":"1D-RVWAP","fontSize":8,"font":"Noto Sans","align":"left","baseline":"middle","color":"#c8b48c"},
 "encoding":{"x":{"datum":191.4,"type":"quantitative"},"y":{"datum":5293.3,"type":"quantitative"}}},
{"data":{"values":[{}]},
 "mark":{"type":"text","text":"2D-RVWAP","fontSize":8,"font":"Noto Sans","align":"left","baseline":"middle","color":"#8c7c50"},
 "encoding":{"x":{"datum":191.4,"type":"quantitative"},"y":{"datum":5284.7,"type":"quantitative"}}},
{"data":{"values":[{}]},
 "mark":{"type":"text","text":"Rolling VWAP","fontSize":9.5,"font":"Noto Sans","align":"left","baseline":"middle","color":"#c8c8c8"},
 "encoding":{"x":{"datum":-1.2,"type":"quantitative"},"y":{"datum":5250.2,"type":"quantitative"}}},
{"data":{"values":[{}]},
 "mark":{"type":"text","text":"NINJATRADER","fontSize":14,"font":"Roboto","fontWeight":"bold","align":"right","baseline":"middle","color":"#e8441c"},
 "encoding":{"x":{"datum":215.2,"type":"quantitative"},"y":{"datum":5250.2,"type":"quantitative"}}},
{"data":{"values":[{}]},
 "mark":{"type":"point","shape":"square","filled":true,"size":324,"color":"#3a3a3a","stroke":"#6a6a6a","strokeWidth":1,"opacity":1},
 "encoding":{"x":{"datum":213.7,"type":"quantitative"},"y":{"datum":5351.2,"type":"quantitative"}}},
{"data":{"values":[{}]},
 "mark":{"type":"text","text":"F","fontSize":14,"font":"Noto Sans","align":"center","baseline":"middle","color":"#e8e8e8"},
 "encoding":{"x":{"datum":213.7,"type":"quantitative"},"y":{"datum":5351.2,"type":"quantitative"}}}
],
"resolve":{"scale":{"color":"independent","fill":"independent","stroke":"independent"}}
}
